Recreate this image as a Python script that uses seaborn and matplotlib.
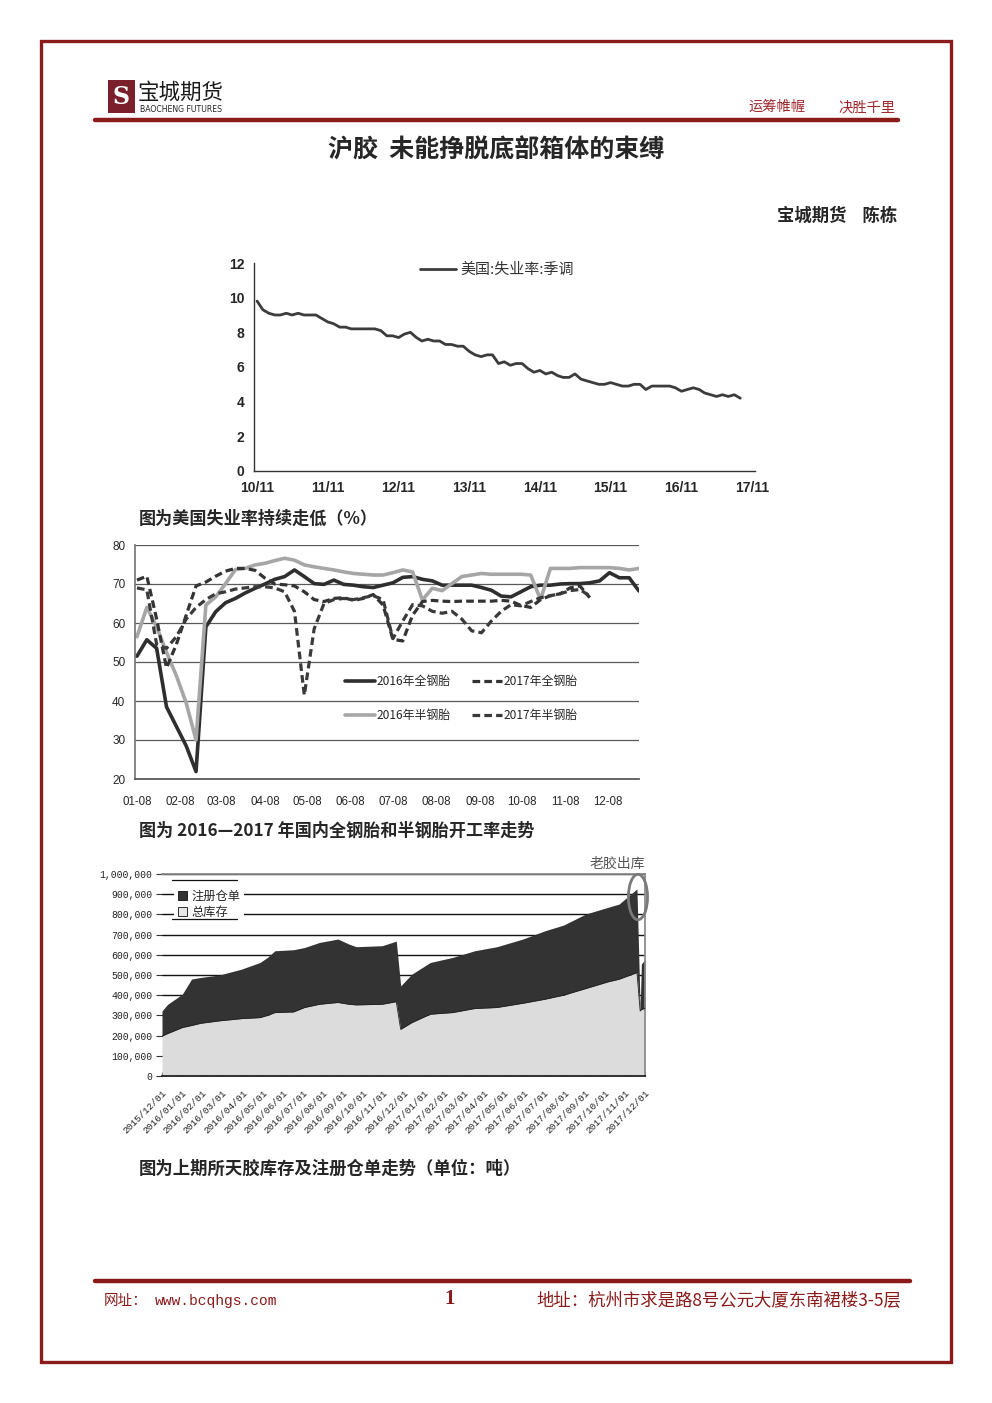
import numpy as np
import pandas as pd
import matplotlib
matplotlib.use("Agg")
import matplotlib.pyplot as plt
from matplotlib.patches import Rectangle, Ellipse, Patch
from matplotlib.lines import Line2D
import seaborn as sns

sns.set_theme(style="white")
CJK = ["Noto Sans CJK SC", "DejaVu Sans"]
plt.rcParams["font.family"] = CJK
plt.rcParams["axes.unicode_minus"] = False

# ---------------- data ----------------
# chart 1: US unemployment rate (seasonally adjusted), monthly from 2010-11
us_start = "2010-11-01"
us_rate = [9.8, 9.3, 9.1, 9.0, 9.0, 9.1, 9.0, 9.1, 9.0, 9.0, 9.0, 8.8,
           8.6, 8.5, 8.3, 8.3, 8.2, 8.2, 8.2, 8.2, 8.2, 8.1, 7.8, 7.8,
           7.7, 7.9, 8.0, 7.7, 7.5, 7.6, 7.5, 7.5, 7.3, 7.3, 7.2, 7.2,
           6.9, 6.7, 6.6, 6.7, 6.7, 6.2, 6.3, 6.1, 6.2, 6.2, 5.9, 5.7,
           5.8, 5.6, 5.7, 5.5, 5.4, 5.4, 5.6, 5.3, 5.2, 5.1, 5.0, 5.0,
           5.1, 5.0, 4.9, 4.9, 5.0, 5.0, 4.7, 4.9, 4.9, 4.9, 4.9, 4.8,
           4.6, 4.7, 4.8, 4.7, 4.5, 4.4, 4.3, 4.4, 4.3, 4.4, 4.2]
us_label = "美国:失业率:季调"
us_ticks = ["10/11", "11/11", "12/11", "13/11", "14/11", "15/11", "16/11", "17/11"]

# chart 2: tyre operating rates, weekly from 01-08
tyre_start = "2016-01-08"
full_2016 = [51.5, 55.7, 53.5, 38.5, 33.5, 28.5, 21.9, 59.0, 62.9, 65.2, 66.3, 67.7,
             68.9, 70.0, 71.2, 71.9, 73.6, 71.9, 70.1, 69.9, 71.0, 69.9, 69.7, 69.3,
             69.1, 69.7, 70.3, 71.7, 71.9, 71.2, 70.8, 69.7, 69.7, 69.7, 69.7, 69.1,
             68.4, 66.9, 66.7, 68.0, 69.3, 69.7, 69.7, 70.0, 70.1, 70.1, 70.3, 70.8,
             72.9, 71.6, 71.6, 68.2]
semi_2016 = [56.5, 64.0, 59.0, 52.5, 46.5, 39.5, 30.0, 64.6, 66.7, 70.1, 73.7, 74.0,
             74.9, 75.3, 76.0, 76.6, 76.1, 74.9, 74.4, 74.0, 73.6, 73.1, 72.7, 72.5,
             72.3, 72.3, 72.9, 73.6, 73.1, 65.9, 68.9, 68.3, 70.1, 71.9, 72.3, 72.7,
             72.5, 72.5, 72.5, 72.5, 72.3, 66.0, 74.0, 74.0, 74.0, 74.2, 74.2, 74.2,
             74.2, 74.0, 73.6, 74.0]
full_2017 = [71.0, 72.0, 61.0, 48.5, 54.5, 62.0, 69.5, 70.5, 72.0, 73.3, 74.0, 74.0,
             73.5, 71.5, 70.0, 69.8, 69.5, 68.0, 66.0, 65.5, 66.3, 66.5, 65.8, 66.3,
             67.3, 64.6, 55.8, 55.4, 62.0, 65.5, 65.8, 65.6, 65.5, 65.6, 65.6, 65.6,
             65.6, 65.8, 65.6, 64.5, 64.0, 66.0, 67.0, 67.5, 69.0, 69.5, 66.5]
semi_2017 = [69.0, 68.5, 54.5, 53.5, 56.5, 61.0, 64.0, 66.0, 67.5, 68.0, 68.7, 69.0,
             69.3, 69.3, 69.0, 68.0, 63.0, 41.5, 58.5, 65.0, 66.0, 66.3, 66.0, 66.5,
             67.0, 66.0, 56.0, 60.5, 64.7, 64.4, 63.0, 62.5, 63.0, 61.0, 58.0, 57.5,
             60.5, 63.0, 64.7, 64.4, 65.5, 66.5, 67.0, 67.5, 68.3, 68.6, 66.9]
tyre_labels = ["2016年全钢胎", "2016年半钢胎", "2017年全钢胎", "2017年半钢胎"]
tyre_ticks = ["01-08", "02-08", "03-08", "04-08", "05-08", "06-08",
              "07-08", "08-08", "09-08", "10-08", "11-08", "12-08"]

# chart 3: SHFE natural rubber stocks (thousand tonnes); x = months since 2015/12/01
inv_month = [0, 0.28, 1.01, 1.47, 1.93, 2.85, 3.95, 4.87, 5.24, 5.61, 6.53, 7.08,
             7.82, 8.74, 9.29, 9.66, 10.94, 11.59, 11.64, 11.86, 12.41, 13.33, 14.44,
             15.54, 16.64, 17.93, 19.03, 19.95, 21.06, 22.16, 22.71, 23.60, 23.76,
             23.82, 24.0]
inv_top = [322, 355, 405, 480, 488, 500, 529, 562, 587, 620, 625, 636, 661, 678,
           653, 640, 645, 666, 668, 446, 504, 562, 587, 620, 640, 678, 719, 747,
           802, 835, 851, 926, 330, 554, 578]
inv_low = [198, 210, 240, 250, 261, 273, 284, 289, 300, 314, 317, 339, 355, 364,
           355, 352, 355, 367, 368, 231, 264, 306, 314, 334, 339, 360, 380, 400,
           433, 466, 479, 512, 322, 330, 334]
inv_ticks = ["2015/12/01", "2016/01/01", "2016/02/01", "2016/03/01", "2016/04/01",
             "2016/05/01", "2016/06/01", "2016/07/01", "2016/08/01", "2016/09/01",
             "2016/10/01", "2016/11/01", "2016/12/01", "2017/01/01", "2017/02/01",
             "2017/03/01", "2017/04/01", "2017/05/01", "2017/06/01", "2017/07/01",
             "2017/08/01", "2017/09/01", "2017/10/01", "2017/11/01", "2017/12/01"]
inv_labels = ["注册仓单", "总库存"]

# ---------------- figure ----------------
W, H = 992, 1403
fig = plt.figure(figsize=(W / 100, H / 100), dpi=100)
fig.patch.set_facecolor("white")


def fx(x):
    return x / W


def fy(y):
    return 1 - y / H


RED = "#8b1a1a"

# page border
fig.patches.append(Rectangle((fx(41), fy(1362)), (951 - 41) / W, (1362 - 41) / H,
                             transform=fig.transFigure, fill=False,
                             edgecolor=RED, lw=2.4, zorder=0))
# header / footer rules
fig.add_artist(Line2D([fx(95), fx(898)], [fy(120), fy(120)], color=RED, lw=3.2))
fig.add_artist(Line2D([fx(95), fx(910)], [fy(1281), fy(1281)], color=RED, lw=3.2))

# logo
fig.patches.append(Rectangle((fx(108), fy(113)), 27 / W, 33 / H, transform=fig.transFigure,
                             facecolor="#7a1f2b", edgecolor="none"))
fig.text(fx(121.5), fy(97), "S", ha="center", va="center", fontsize=17,
         color="white", family=["DejaVu Serif"], weight="bold")
fig.text(fx(138), fy(93), "宝城期货", ha="left", va="center", fontsize=15.5,
         color="#1a1a1a", family=CJK)
fig.text(fx(140), fy(109), "BAOCHENG FUTURES", ha="left", va="center", fontsize=5.6,
         color="#222222", family=["DejaVu Sans"])
fig.text(fx(748), fy(107), "运筹帷幄", ha="left", va="center", fontsize=10.3,
         color="#a0282d", family=CJK)
fig.text(fx(838), fy(107), "决胜千里", ha="left", va="center", fontsize=10.3,
         color="#a0282d", family=CJK)

# title / author
fig.text(fx(496), fy(151), "沪胶  未能挣脱底部箱体的束缚", ha="center", va="center",
         fontsize=18, weight="bold", family=CJK)
fig.text(fx(897), fy(216), "宝城期货    陈栋", ha="right", va="center",
         fontsize=12.5, weight="bold", family=CJK)

# captions
fig.text(fx(139), fy(519), "图为美国失业率持续走低（%）", ha="left", va="center",
         fontsize=12.3, weight="bold", family=CJK)
fig.text(fx(139), fy(831), "图为 2016—2017 年国内全钢胎和半钢胎开工率走势", ha="left",
         va="center", fontsize=12.3, weight="bold", family=CJK)
fig.text(fx(139), fy(1169), "图为上期所天胶库存及注册仓单走势（单位：吨）", ha="left",
         va="center", fontsize=12.5, weight="bold", family=CJK)

# footer
fig.text(fx(104), fy(1301), "网址：", ha="left", va="center", fontsize=10.5,
         color=RED, family=CJK)
fig.text(fx(155), fy(1301), "www.bcqhgs.com", ha="left", va="center", fontsize=10.5,
         color=RED, family=["Liberation Mono", "DejaVu Sans Mono"])
fig.text(fx(450), fy(1299), "1", ha="center", va="center", fontsize=15,
         weight="bold", color=RED, family=["Liberation Serif", "DejaVu Serif"])
fig.text(fx(901), fy(1301), "地址：杭州市求是路8号公元大厦东南裙楼3-5层", ha="right",
         va="center", fontsize=12.5, color=RED, family=CJK)

# ---------------- chart 1 ----------------
ax1 = fig.add_axes([fx(254), fy(471), (755 - 254) / W, (471 - 263) / H])
us_dates = pd.date_range(us_start, periods=len(us_rate), freq="MS")
df1 = pd.DataFrame({"date": us_dates, "rate": us_rate})
sns.lineplot(data=df1, x="date", y="rate", ax=ax1, color="#3c3c3c", lw=2.0,
             label=us_label)
ax1.set_ylim(0, 12)
ax1.set_xlim(pd.Timestamp("2010-10-16"), pd.Timestamp("2017-11-16"))
ax1.set_yticks(range(0, 13, 2))
ax1.set_yticklabels([str(v) for v in range(0, 13, 2)])
tick_dates = pd.date_range("2010-11-01", periods=len(us_ticks), freq="12MS")
ax1.set_xticks(tick_dates)
ax1.set_xticklabels(us_ticks)
ax1.set_xlabel("")
ax1.set_ylabel("")
for s in ["top", "right"]:
    ax1.spines[s].set_visible(False)
for s in ["left", "bottom"]:
    ax1.spines[s].set_color("#333333")
    ax1.spines[s].set_linewidth(1.0)
ax1.tick_params(axis="both", direction="out", length=4, width=1, color="#333333",
                labelsize=10, pad=3)
ax1.tick_params(axis="y", pad=3)
for t in ax1.get_xticklabels() + ax1.get_yticklabels():
    t.set_fontweight("bold")
    t.set_family(["Liberation Sans", "DejaVu Sans"])
leg1 = ax1.legend(loc="upper left", bbox_to_anchor=(0.305, 1.065), frameon=False,
                  fontsize=10.8, handlelength=2.4, handletextpad=0.3)
for t in leg1.get_texts():
    t.set_color("#333333")

# ---------------- chart 2 ----------------
ax2 = fig.add_axes([fx(135), fy(779), (639 - 135) / W, (779 - 545) / H])
wk = pd.date_range(tyre_start, periods=len(full_2016), freq="7D")
sns.lineplot(x=wk, y=full_2016, ax=ax2, color="#2e2e2e", lw=2.6, label=tyre_labels[0])
sns.lineplot(x=wk, y=semi_2016, ax=ax2, color="#a6a6a6", lw=2.6, label=tyre_labels[1])
sns.lineplot(x=wk[:len(full_2017)], y=full_2017, ax=ax2, color="#333333", lw=2.3,
             label=tyre_labels[2])
sns.lineplot(x=wk[:len(semi_2017)], y=semi_2017, ax=ax2, color="#3a3a3a", lw=2.3,
             label=tyre_labels[3])
lines = ax2.get_lines()
for ln in lines[2:4]:
    ln.set_dashes([2.4, 1.3])
ax2.set_ylim(20, 80)
ax2.set_xlim(pd.Timestamp(tyre_start) - pd.Timedelta(days=1.4),
             pd.Timestamp(tyre_start) + pd.Timedelta(days=357))
ax2.set_yticks(range(20, 81, 10))
ax2.set_yticklabels([str(v) for v in range(20, 81, 10)])
mt = pd.date_range("2016-01-01", periods=12, freq="MS") + pd.Timedelta(days=7)
ax2.set_xticks(mt)
ax2.set_xticklabels(tyre_ticks)
ax2.yaxis.grid(True, color="#5a5a5a", lw=0.9)
ax2.set_axisbelow(True)
ax2.set_xlabel("")
ax2.set_ylabel("")
for s in ["top", "right"]:
    ax2.spines[s].set_visible(False)
ax2.spines["left"].set_color("#777777")
ax2.spines["bottom"].set_color("#555555")
ax2.tick_params(axis="y", length=0, pad=7, labelsize=8.5)
ax2.tick_params(axis="x", direction="out", length=3, width=0.8, color="#555555",
                labelsize=8.3, pad=9)
for t in ax2.get_xticklabels() + ax2.get_yticklabels():
    t.set_family(["Liberation Sans Narrow", "Liberation Sans", "DejaVu Sans"])
h, lb = ax2.get_legend_handles_labels()
leg2 = ax2.legend(h, lb, ncol=2,
                  loc="upper left", bbox_to_anchor=(0.395, 0.49), frameon=False,
                  fontsize=8.6, handlelength=2.5, handletextpad=0.15,
                  columnspacing=1.8, labelspacing=1.75)

# ---------------- chart 3 ----------------
ax3 = fig.add_axes([fx(162), fy(1076), (645 - 162) / W, (1076 - 874) / H])
top_t = np.array(inv_top) * 1000
low_t = np.array(inv_low) * 1000
ax3.fill_between(inv_month, 0, low_t, color="#dcdcdc", lw=0, zorder=2)
ax3.fill_between(inv_month, low_t, top_t, color="#333333", lw=0, zorder=2)
sns.lineplot(x=inv_month, y=low_t, ax=ax3, color="#222222", lw=0.6, sort=False,
             zorder=3)
ax3.set_xlim(0, 24)
ax3.set_ylim(0, 1000000)
yt = list(range(0, 1000001, 100000))
ax3.set_yticks(yt)
ax3.set_yticklabels(["{:,}".format(v) for v in yt])
ax3.set_xticks(range(len(inv_ticks)))
ax3.set_xticklabels(inv_ticks, rotation=45, ha="right", rotation_mode="anchor")
ax3.yaxis.grid(True, color="#111111", lw=1.0)
ax3.set_axisbelow(True)
ax3.set_xlabel("")
ax3.set_ylabel("")
ax3.spines["top"].set_color("#888888")
ax3.spines["right"].set_color("#888888")
ax3.spines["left"].set_visible(False)
ax3.spines["bottom"].set_color("#111111")
ax3.spines["bottom"].set_linewidth(1.2)
ax3.tick_params(axis="y", direction="out", length=4, width=0.8, color="#333333",
                labelsize=7, pad=3, left=True)
ax3.tick_params(axis="x", direction="in", length=3, width=0.8, color="#333333",
                labelsize=6.8, pad=9, bottom=True)
for t in ax3.get_xticklabels() + ax3.get_yticklabels():
    t.set_family(["Liberation Mono", "DejaVu Sans Mono"])
    t.set_color("#222222")
leg3 = ax3.legend([Patch(facecolor="#333333", edgecolor="#111111", lw=0.6),
                   Patch(facecolor="#e6e6e6", edgecolor="#111111", lw=0.6)],
                  inv_labels, loc="upper left", bbox_to_anchor=(0.012, 0.975),
                  frameon=True, fontsize=8.8, handlelength=0.75, handleheight=0.75,
                  handletextpad=0.3, labelspacing=0.25, borderpad=0.35)
leg3.get_frame().set_facecolor("white")
leg3.get_frame().set_edgecolor("none")
leg3.get_frame().set_alpha(1.0)
leg3.set_zorder(5)
for yy in (0.972, 0.775):
    ax3.add_line(Line2D([0.021, 0.155], [yy, yy], transform=ax3.transAxes,
                        color="#111111", lw=0.9, zorder=6))
ax3.add_patch(Ellipse((23.65, 886000), 0.95, 225000, fill=False, edgecolor="#7a7a7a",
                      lw=2.0, clip_on=False, zorder=6))
fig.text(fx(617), fy(864), "老胶出库", ha="center", va="center", fontsize=10,
         color="#555555", family=CJK)

fig.savefig("out.png", dpi=100)
